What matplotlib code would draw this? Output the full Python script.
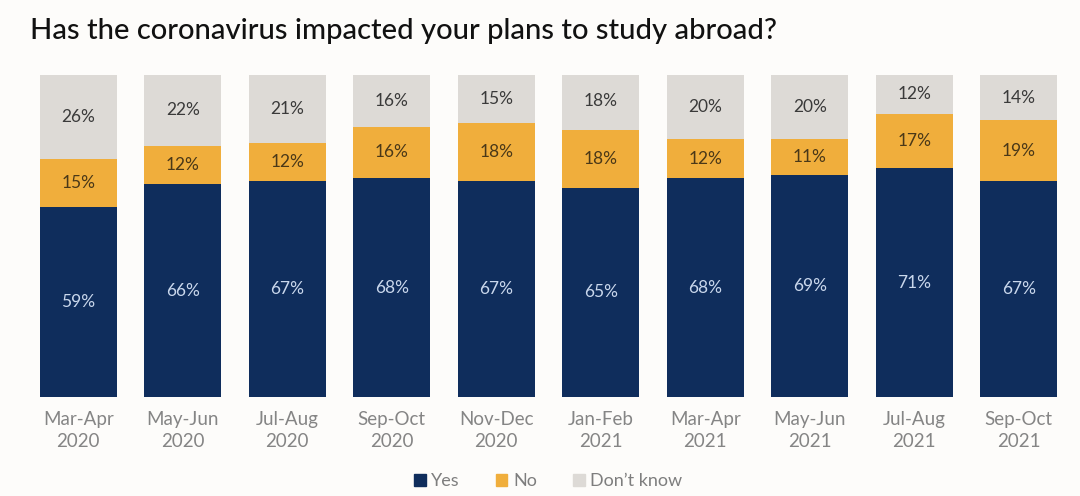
import numpy as np
import matplotlib.pyplot as plt
from matplotlib.patches import Patch

periods = ['Mar-Apr\n2020', 'May-Jun\n2020', 'Jul-Aug\n2020', 'Sep-Oct\n2020', 'Nov-Dec\n2020',
           'Jan-Feb\n2021', 'Mar-Apr\n2021', 'May-Jun\n2021', 'Jul-Aug\n2021', 'Sep-Oct\n2021']
yes = [59, 66, 67, 68, 67, 65, 68, 69, 71, 67]
no = [15, 12, 12, 16, 18, 18, 12, 11, 17, 19]
dont_know = [26, 22, 21, 16, 15, 18, 20, 20, 12, 14]

c_yes = '#0f2d5c'
c_no = '#f0ae3c'
c_dk = '#dddad6'
bg = '#fdfcfa'

plt.rcParams['font.family'] = ['Lato', 'DejaVu Sans']

fig = plt.figure(figsize=(10.8, 4.96), dpi=100, facecolor=bg)
ax = fig.add_axes([26 / 1080, 1 - 397 / 496, (1071 - 26) / 1080, (397 - 75) / 496])
ax.set_facecolor(bg)

x = np.arange(len(periods))
yes = np.array(yes)
no = np.array(no)
dont_know = np.array(dont_know)
w = 0.74

ax.bar(x, yes, w, color=c_yes)
ax.bar(x, no, w, bottom=yes, color=c_no)
ax.bar(x, dont_know, w, bottom=yes + no, color=c_dk)

for i in range(len(x)):
    ax.text(x[i], yes[i] / 2, f'{yes[i]}%', ha='center', va='center', fontsize=12.5, color='#c9d7ec')
    ax.text(x[i], yes[i] + no[i] / 2, f'{no[i]}%', ha='center', va='center', fontsize=12.5, color='#4a3818')
    ax.text(x[i], yes[i] + no[i] + dont_know[i] / 2, f'{dont_know[i]}%', ha='center', va='center',
            fontsize=12.5, color='#3a3a3a')

ax.set_xlim(-0.5, len(x) - 0.5)
ax.set_ylim(0, 100)
ax.set_xticks(x)
ax.set_xticklabels(periods, fontsize=13.5, color='#858585', linespacing=1.35)
ax.tick_params(axis='x', length=0, pad=10)
ax.set_yticks([])
for s in ax.spines.values():
    s.set_visible(False)

fig.text(30 / 1080, 1 - 31 / 496, 'Has the coronavirus impacted your plans to study abroad?',
         fontsize=21, fontweight='medium', color='#111111', va='center', ha='left')

handles = [Patch(color=c_yes), Patch(color=c_no), Patch(color=c_dk)]
fig.legend(handles, ['Yes', 'No', "Don\u2019t know"], loc='center', bbox_to_anchor=(548 / 1080, 1 - 481 / 496),
           ncol=3, frameon=False, fontsize=13, handlelength=0.65, handleheight=0.65, handletextpad=0.3,
           columnspacing=2.0, labelcolor='#7e7e7e')

fig.savefig('out.png', dpi=100, facecolor=bg)
